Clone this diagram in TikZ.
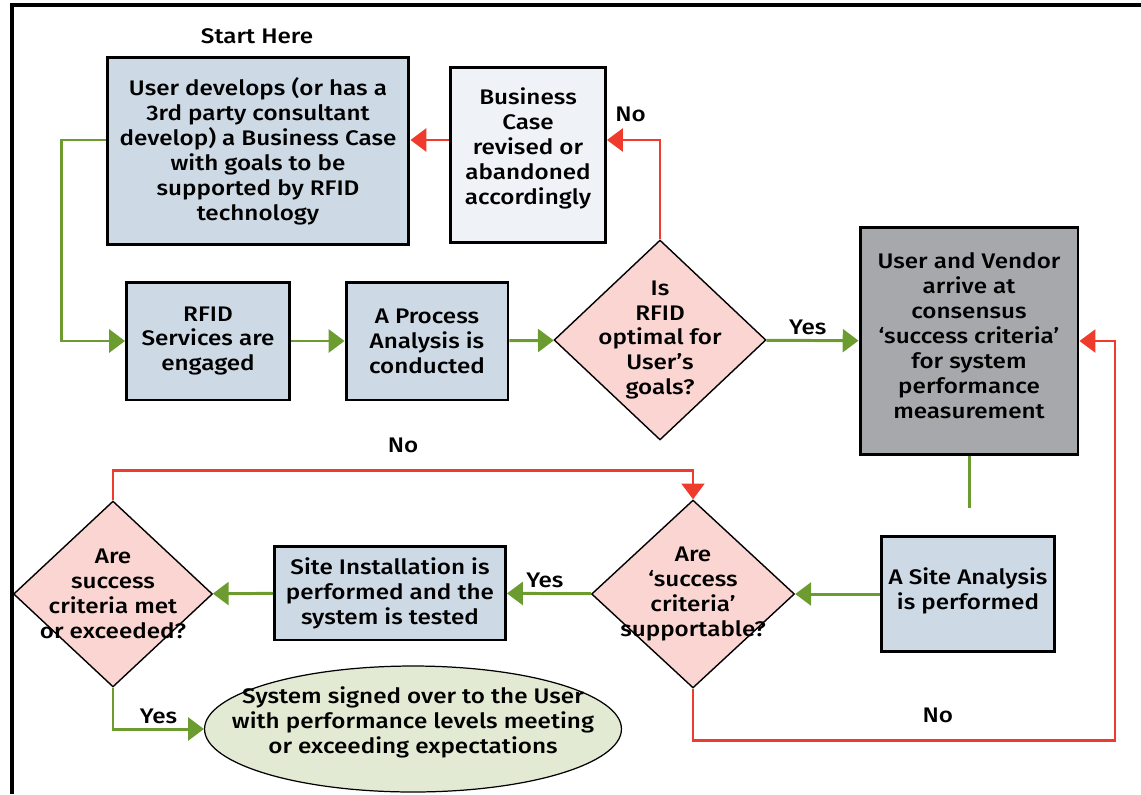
\documentclass[tikz,border=0pt]{standalone}
\usepackage{fontspec}
\setmainfont{Fira Sans}[UprightFont={* Medium}, FakeStretch=1.15]
\usetikzlibrary{positioning, shapes.geometric, arrows.meta}

\definecolor{boxblue}{HTML}{CDD9E5}
\definecolor{paleblue}{HTML}{EFF3F7}
\definecolor{pinkfill}{HTML}{FBD5D1}
\definecolor{greyfill}{HTML}{A6A8AB}
\definecolor{endgreen}{HTML}{E3EAD3}
\definecolor{gogreen}{HTML}{6C9C30}
\definecolor{backred}{HTML}{EE3B2B}

\begin{document}
\begin{tikzpicture}[
                x=0.02cm, y=-0.02cm,
                font=\fontsize{12}{14.2}\selectfont,
                box/.style={rectangle, draw, line width=1.7pt, fill=boxblue, align=center},
                palebox/.style={box, fill=paleblue},
                greybox/.style={box, fill=greyfill},
                decision/.style={diamond, draw, line width=0.8pt, fill=pinkfill},
                finish/.style={ellipse, draw, line width=0.7pt, fill=endgreen},
                yes/.style={draw=gogreen, line width=1.7pt, -{Triangle[length=9pt, width=13pt]}},
                no/.style={draw=backred, line width=1.6pt, -{Triangle[length=9pt, width=13pt]}}
            ]
                \useasboundingbox (0,0) rectangle (1141,794);
                \draw[line width=1.8pt] (12,794) -- (12,5) -- (1141,5);

                % boxes
                \node (start) at (257,36) {Start Here};
                \node[box, minimum width=6.04cm, minimum height=3.74cm] (user) at (258,151)
                    {User develops (or has a\\3rd party consultant\\develop) a Business Case\\with goals to be\\supported by RFID\\technology};
                \node[palebox, minimum width=3.1cm, minimum height=3.52cm] (revise) at (528,155)
                    {Business\\Case\\revised or\\abandoned\\accordingly\\[-4pt]};
                \node[box, minimum width=3.26cm, minimum height=2.36cm] (rfid) at (208,341)
                    {RFID\\Services are\\engaged};
                \node[box, minimum width=3.24cm, minimum height=2.36cm] (process) at (427,341)
                    {A Process\\Analysis is\\conducted};
                \node[decision, minimum width=4.24cm, minimum height=4cm,
                      label={[align=center]center:Is\\RFID\\optimal for\\User's\\goals?}] (optimal) at (660,340) {};
                \node[greybox, minimum width=4.36cm, minimum height=4.54cm] (consensus) at (969,341)
                    {User and Vendor\\arrive at\\consensus\\`success criteria'\\for system\\performance\\measurement\\[-8pt]};
                \node[box, minimum width=3.46cm, minimum height=2.3cm] (site) at (968,594)
                    {A Site Analysis\\is performed\\[-8pt]};
                \node[decision, minimum width=4.06cm, minimum height=3.76cm,
                      label={[align=center]center:Are\\`success\\criteria'\\supportable?}] (support) at (693,594) {};
                \node[box, minimum width=4.62cm, minimum height=1.88cm] (install) at (390,593)
                    {Site Installation is\\performed and the\\system is tested};
                \node[decision, minimum width=3.98cm, minimum height=3.72cm,
                      label={[align=center]center:Are\\success\\criteria met\\or exceeded?}] (met) at (113,594) {};
                \node[finish, minimum width=8.34cm, minimum height=2.52cm,
                      label={[align=center, yshift=4pt]center:System signed over to the User\\with performance levels meeting\\or exceeding expectations}] (signed) at (413,729) {};

                \coordinate (nolevel) at (0,140);

                % connectors
                \draw[no] (revise.west |- nolevel) -- (user.east |- nolevel);
                \draw[no] (optimal.north) |- node[pos=0.5, above left=6pt and 4pt] {No} (revise.east |- nolevel);
                \draw[yes] (user.west |- nolevel) -- ++(-44,0) |- (rfid.west);
                \draw[yes] (rfid) -- (process);
                \draw[yes] (process) -- (optimal);
                \draw[yes] (optimal) -- node[above=-1pt, pos=0.45] {Yes} (consensus);
                \draw[draw=gogreen, line width=1.7pt, shorten >=9\pgflinewidth] (consensus.south) -- (consensus.south |- site.north);
                \draw[yes] (site) -- (support);
                \draw[no] (support.south) -- ++(0,52) -- node[above=6pt, pos=0.58] {No} ++(422,0) |- (consensus.east);
                \draw[yes] (support) -- node[above=-1pt, pos=0.55] {Yes} (install);
                \draw[yes] (install) -- (met);
                \draw[no] (met.north) -- ++(0,-30) -| node[pos=0.25, above=6pt] {No} (support.north);
                \draw[yes] (met.south) |- node[pos=0.75, above=-1pt] {Yes} (signed.west);

            \end{tikzpicture}
\end{document}
